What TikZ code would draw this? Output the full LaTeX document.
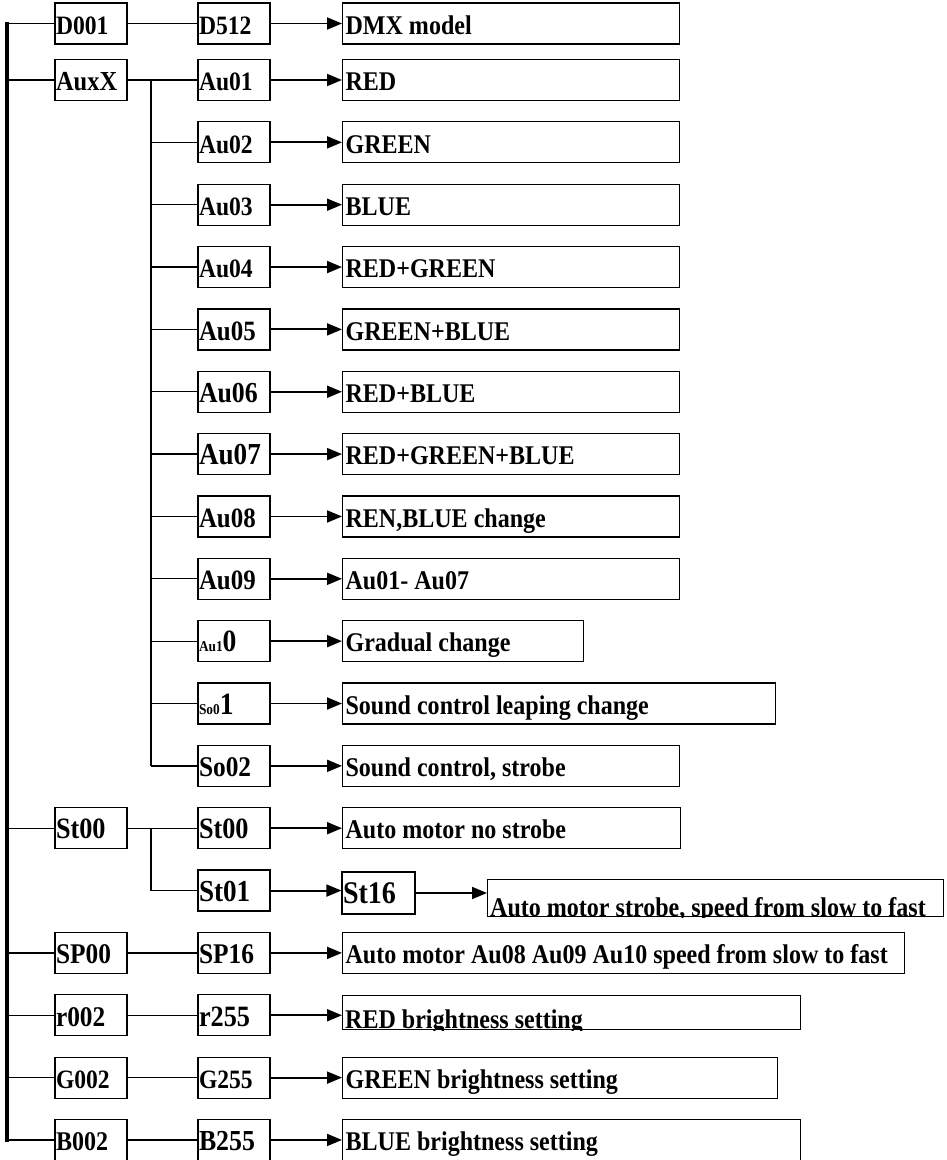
\documentclass[tikz,border=0pt]{standalone}
\usepackage{fontspec}
\setmainfont{Liberation Serif}[FakeStretch=0.89]
\usetikzlibrary{arrows.meta,calc}
\newcommand{\dl}[1]{\spaceskip=0pt\xspaceskip=0pt\mbox{#1}}
\begin{document}
\begin{tikzpicture}[x=1pt,y=-1pt,
  fs/.style={font=\bfseries\fontsize{#1}{#1}\selectfont},
  lab/.style={draw, line width=1.2pt, rectangle, minimum height=41pt, inner ysep=0pt, inner xsep=1pt,
    text width=70pt, text height=21.5pt, text depth=0pt, fs=26.5},
  desc/.style={draw, line width=1.2pt, rectangle, minimum height=41pt, inner ysep=0pt, inner xsep=3pt,
    text height=21.5pt, text depth=0pt, anchor=west, fs=27},
  frame/.style={draw, line width=1.2pt, rectangle, inner sep=0pt},
  dtext/.style={inner sep=0pt, anchor=base west, fs=27},
  conn/.style={line width=1.3pt},
  barline/.style={line width=3.8pt},
  arr/.style={line width=1.9pt, -{Triangle[length=15pt,width=12pt]}}
]
\path[use as bounding box, clip] (0,0) rectangle (947,1160);
\fill[white] (0,0) rectangle (947,1160);

% ---- column 1
\node[lab] (d001) at (91,23.5) {D001};
\node[lab, fs=27.5] (auxx) at (91,80) {AuxX};
\node[lab, fs=29.5] (st00a) at (91,828.2) {St00};
\node[lab, fs=28.5] (sp00) at (91,952.9) {SP00};
\node[lab, fs=28.5] (r002) at (91,1015.25) {r002};
\node[lab] (g002) at (91,1077.6) {G002};
\node[lab, fs=27] (b002) at (91,1139.95) {B002};

% ---- column 2
\node[lab] (d512) at (234,23.5) {D512};
\node[lab] (au01) at (234,80) {Au01};
\node[lab] (au02) at (234,142.35) {Au02};
\node[lab] (au03) at (234,204.7) {Au03};
\node[lab] (au04) at (234,267.05) {Au04};
\node[lab, fs=28] (au05) at (234,329.4) {Au05};
\node[lab, fs=29] (au06) at (234,391.75) {Au06};
\node[lab, fs=30.5] (au07) at (234,454.1) {Au07};
\node[lab, fs=28] (au08) at (234,516.45) {Au08};
\node[lab, fs=28] (au09) at (234,578.8) {Au09};
\node[lab] (au10) at (234,641.15) {{\fontsize{15}{15}\selectfont Au1}{\fontsize{31}{31}\selectfont 0}};
\node[lab] (so01) at (234,703.5) {{\fontsize{15}{15}\selectfont So0}{\fontsize{31}{31}\selectfont 1}};
\node[lab, fs=28.5] (so02) at (234,765.85) {So02};
\node[lab, fs=29.5] (st00b) at (234,828.2) {St00};
\node[lab, fs=30.5] (st01) at (234,890.55) {St01};
\node[lab, fs=28.5] (sp16) at (234,952.9) {SP16};
\node[lab, fs=29.5] (r255) at (234,1015.25) {r255};
\node[lab] (g255) at (234,1077.6) {G255};
\node[lab, fs=29] (b255) at (234,1139.95) {B255};
\node[lab, fs=31.5, text width=71pt, minimum height=42pt, text height=20pt] (st16) at (378.5,893) {St16};

% ---- descriptions
\node[desc, text width=331pt] (e00) at (342,23.5) {\dl{DMX model}};
\node[desc, text width=331pt] (e01) at (342,80) {\dl{RED}};
\node[desc, text width=331pt] (e02) at (342,142.35) {\dl{GREEN}};
\node[desc, text width=331pt] (e03) at (342,204.7) {\dl{BLUE}};
\node[desc, text width=331pt] (e04) at (342,267.05) {\dl{RED+GREEN}};
\node[desc, text width=331pt] (e05) at (342,329.4) {\dl{GREEN+BLUE}};
\node[desc, text width=331pt] (e06) at (342,391.75) {\dl{RED+BLUE}};
\node[desc, text width=331pt] (e07) at (342,454.1) {\dl{RED+GREEN+BLUE}};
\node[desc, text width=331pt] (e08) at (342,516.45) {\dl{REN,BLUE change}};
\node[desc, text width=331pt] (e09) at (342,578.8) {\dl{Au01- Au07}};
\node[desc, text width=235pt] (e10) at (342,641.15) {\dl{Gradual change}};
\node[desc, text width=427pt] (e11) at (342,703.5) {\dl{Sound control leaping change}};
\node[desc, text width=331pt] (e12) at (342,765.85) {\dl{Sound control, strobe}};
\node[desc, text width=332pt] (e13) at (342,828.2) {\dl{Auto motor no strobe}};
\node[desc, text width=556pt] (e15) at (342,952.9) {\dl{Auto motor Au08 Au09 Au10 speed from slow to fast}};
\node[desc, text width=429pt] (e17) at (342,1077.6) {\dl{GREEN brightness setting}};
\node[desc, text width=452pt] (e18) at (342,1139.95) {\dl{BLUE brightness setting}};

\node[frame, minimum width=456pt, minimum height=37pt, anchor=north west] (e14) at (487,879) {};
\begin{scope}
  \clip (e14.south west) rectangle (e14.north east);
  \node[dtext] (t14) at ($(e14.south west)+(3,-1.2)$) {Auto motor strobe, speed from slow to fast};
\end{scope}
\node[frame, minimum width=458pt, minimum height=34pt, anchor=north west] (e16) at (342,995) {};
\begin{scope}
  \clip (e16.south west) rectangle (e16.north east);
  \node[dtext] (t16) at ($(e16.south west)+(3,-2)$) {RED brightness setting};
\end{scope}

% ---- main bar
\coordinate (bt) at (7,22);
\coordinate (bb) at (7,1141.8);
\draw[barline] (bt) -- (bb);
\foreach \n in {d001,auxx,st00a,sp00,r002,g002,b002}
  \draw[conn] (\n.west -| bt) -- (\n.west);

% ---- direct links column 1 to column 2
\draw[conn] (d001.east) -- (d512.west);
\draw[conn] (sp00.east) -- (sp16.west);
\draw[conn] (r002.east) -- (r255.west);
\draw[conn] (g002.east) -- (g255.west);
\draw[conn] (b002.east) -- (b255.west);

% ---- AuxX branch
\coordinate (ax) at (151,80);
\draw[conn] (auxx.east) -- (au01.west);
\draw[conn] (ax) -- (so02.west -| ax);
\foreach \n in {au02,au03,au04,au05,au06,au07,au08,au09,au10,so01,so02}
  \draw[conn] (\n.west -| ax) -- (\n.west);

% ---- St00 branch
\coordinate (sx) at (151,828.2);
\draw[conn] (st00a.east) -- (st00b.west);
\draw[conn] (sx) -- (st01.west -| sx) -- (st01.west);

% ---- arrows
\draw[arr] (d512.east) -- (e00.west);
\draw[arr] (au01.east) -- (e01.west);
\draw[arr] (au02.east) -- (e02.west);
\draw[arr] (au03.east) -- (e03.west);
\draw[arr] (au04.east) -- (e04.west);
\draw[arr] (au05.east) -- (e05.west);
\draw[arr] (au06.east) -- (e06.west);
\draw[arr] (au07.east) -- (e07.west);
\draw[arr] (au08.east) -- (e08.west);
\draw[arr] (au09.east) -- (e09.west);
\draw[arr] (au10.east) -- (e10.west);
\draw[arr] (so01.east) -- (e11.west);
\draw[arr] (so02.east) -- (e12.west);
\draw[arr] (st00b.east) -- (e13.west);
\draw[arr] (st01.east) -- (st01.east -| st16.west);
\draw[arr] (st16.east) -- (st16.east -| e14.west);
\draw[arr] (sp16.east) -- (e15.west);
\draw[arr] (r255.east) -- (r255.east -| e16.west);
\draw[arr] (g255.east) -- (e17.west);
\draw[arr] (b255.east) -- (e18.west);
\end{tikzpicture}
\end{document}
